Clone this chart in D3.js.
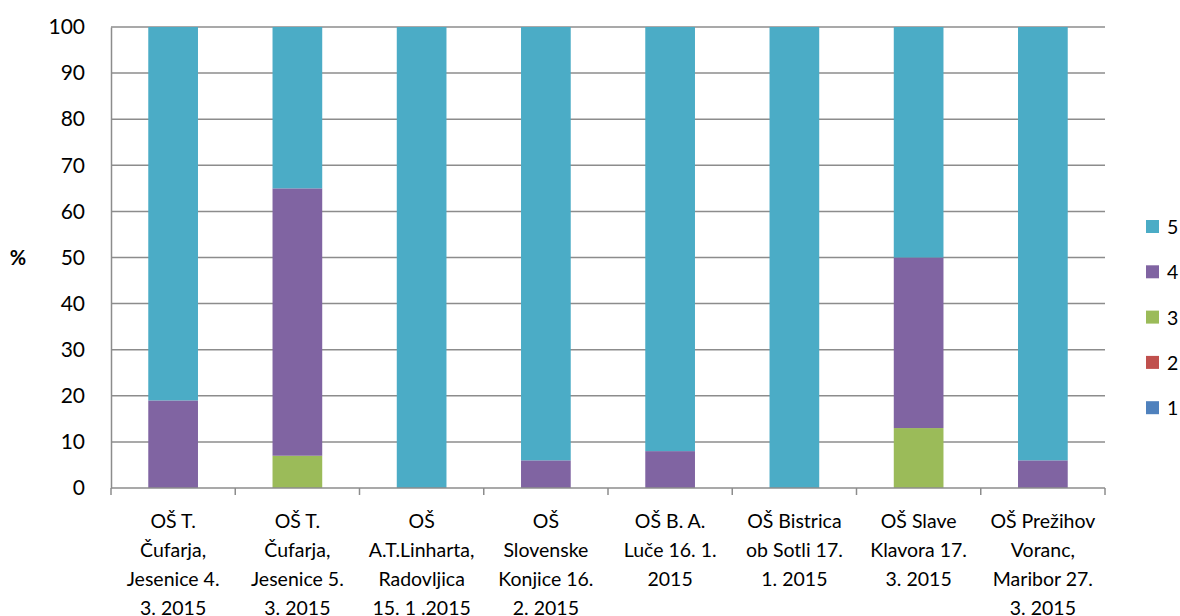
<!DOCTYPE html>
<html>
<head>
<meta charset="utf-8">
<script src="https://cdn.jsdelivr.net/npm/d3@7"></script>
<style>
  html, body { margin: 0; padding: 0; background: #fff; }
  svg text { font-family: Lato, "Open Sans", sans-serif; fill: #000; }
</style>
</head>
<body>
<svg id="chart" width="1180" height="616"></svg>
<script>
// ---- data ----
const categories = [
  ["OŠ T.", "Čufarja,", "Jesenice 4.", "3. 2015"],
  ["OŠ T.", "Čufarja,", "Jesenice 5.", "3. 2015"],
  ["OŠ", "A.T.Linharta,", "Radovljica", "15. 1 .2015"],
  ["OŠ", "Slovenske", "Konjice 16.", "2. 2015"],
  ["OŠ B. A.", "Luče 16. 1.", "2015"],
  ["OŠ Bistrica", "ob Sotli 17.", "1. 2015"],
  ["OŠ Slave", "Klavora 17.", "3. 2015"],
  ["OŠ Prežihov", "Voranc,", "Maribor 27.", "3. 2015"]
];
const seriesNames = ["1", "2", "3", "4", "5"];
const s1 = [0, 0, 0, 0, 0, 0, 0, 0];
const s2 = [0, 0, 0, 0, 0, 0, 0, 0];
const s3 = [0, 7, 0, 0, 0, 0, 13, 0];
const s4 = [19, 58, 0, 6, 8, 0, 37, 6];
const s5 = [81, 35, 100, 94, 92, 100, 50, 94];
const colors = ["#4F81BD", "#C0504D", "#9BBB59", "#8064A2", "#4BACC6"];
const yTicks = [0, 10, 20, 30, 40, 50, 60, 70, 80, 90, 100];

// ---- layout ----
const svg = d3.select("#chart");
const m = { left: 111, right: 75, top: 27, bottom: 128 };
const W = 1180, H = 616;
const x0 = m.left, x1 = W - m.right, y0 = H - m.bottom, y1 = m.top;

const idx = categories.map((c, i) => i);
const x = d3.scaleBand().domain(idx).range([x0, x1]).paddingInner(0.6).paddingOuter(0.3);
const y = d3.scaleLinear().domain([0, 100]).range([y0, y1]);

const rows = idx.map(i => ({ i, "1": s1[i], "2": s2[i], "3": s3[i], "4": s4[i], "5": s5[i] }));
const stack = d3.stack().keys(seriesNames)(rows);

// gridlines
svg.append("g").selectAll("line").data(yTicks.filter(t => t > 0)).join("line")
  .attr("x1", x0).attr("x2", x1)
  .attr("y1", d => y(d)).attr("y2", d => y(d))
  .attr("stroke", "#8c8c8c").attr("stroke-width", 1.5);

// bars
svg.append("g").selectAll("g").data(stack).join("g")
  .attr("fill", (d, k) => colors[k])
  .selectAll("rect").data(d => d).join("rect")
  .attr("x", d => x(d.data.i))
  .attr("width", x.bandwidth())
  .attr("y", d => y(d[1]))
  .attr("height", d => y(d[0]) - y(d[1]));

// y axis
const yAxis = d3.axisLeft(y).tickValues(yTicks).tickSize(0).tickPadding(26);
const gy = svg.append("g").attr("transform", `translate(${x0},0)`).call(yAxis);
gy.select(".domain").attr("stroke", "#8c8c8c").attr("stroke-width", 1.5);
gy.selectAll("text").style("font-size", "21px").style("font-family", "Lato, 'Open Sans', sans-serif");

// x axis
const gx = svg.append("g").attr("transform", `translate(0,${y0})`);
gx.append("line").attr("x1", x0).attr("x2", x1).attr("y1", 0).attr("y2", 0)
  .attr("stroke", "#8c8c8c").attr("stroke-width", 1.5);
const step = x.step();
const bounds = idx.map(i => x(i) - step * 0.3).concat([x(idx.length - 1) + x.bandwidth() + step * 0.3]);
gx.selectAll("line.tick").data(bounds).join("line").attr("class", "tick")
  .attr("x1", d => d).attr("x2", d => d).attr("y1", 0).attr("y2", 7)
  .attr("stroke", "#8c8c8c").attr("stroke-width", 1.5);
const labels = gx.selectAll("text.lab").data(idx).join("text").attr("class", "lab")
  .attr("text-anchor", "middle")
  .attr("x", i => x(i) + x.bandwidth() / 2)
  .attr("y", 40)
  .style("font-size", "19.5px");
labels.selectAll("tspan").data(i => categories[i].map(t => ({ t, cx: x(i) + x.bandwidth() / 2 })))
  .join("tspan")
  .attr("x", d => d.cx)
  .attr("dy", (d, k) => k === 0 ? 0 : 29)
  .text(d => d.t);

// y title
svg.append("text").attr("x", 18).attr("y", 265).attr("text-anchor", "middle")
  .style("font-size", "20px").style("font-weight", "bold").text("%");

// legend (reverse order)
const legendItems = seriesNames.map((n, k) => ({ n, c: colors[k] })).reverse();
const lg = svg.append("g").selectAll("g").data(legendItems).join("g")
  .attr("transform", (d, k) => `translate(1146,${227 + k * 45.3})`);
lg.append("rect").attr("x", 0).attr("y", -7).attr("width", 13).attr("height", 13).attr("fill", d => d.c);
lg.append("text").attr("x", 21).attr("y", 7).style("font-size", "19.5px").text(d => d.n);
</script>
</body>
</html>
